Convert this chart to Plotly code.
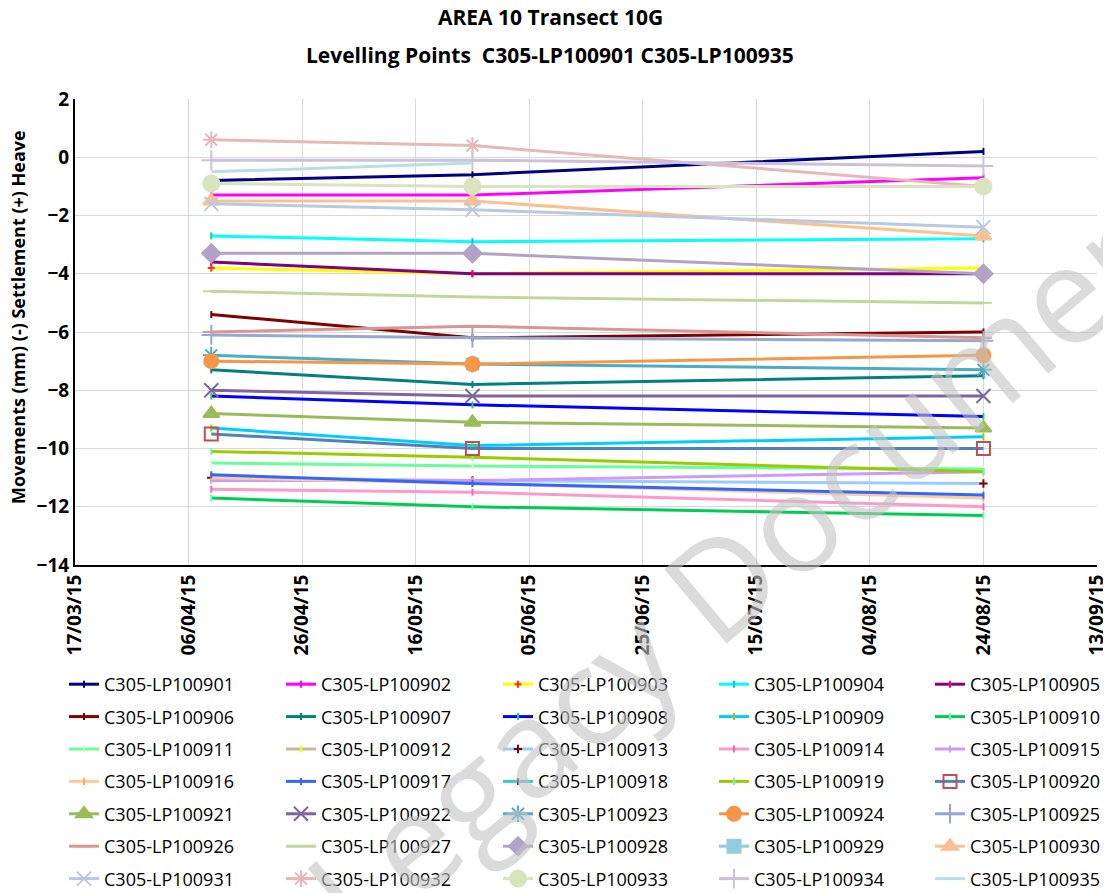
import plotly.graph_objects as go

dates = ["2015-04-10", "2015-05-26", "2015-08-24"]

lp100901 = [-0.8, -0.6, 0.2]
lp100902 = [-1.3, -1.3, -0.7]
lp100903 = [-3.8, -4.0, -3.8]
lp100904 = [-2.7, -2.9, -2.8]
lp100905 = [-3.6, -4.0, -4.0]
lp100906 = [-5.4, -6.2, -6.0]
lp100907 = [-7.3, -7.8, -7.5]
lp100908 = [-8.2, -8.5, -8.9]
lp100909 = [-9.3, -9.9, -9.6]
lp100910 = [-11.7, -12.0, -12.3]
lp100911 = [-10.5, -10.6, -10.7]
lp100912 = [None, None, None]
lp100913 = [-11.0, -11.1, -11.2]
lp100914 = [-11.4, -11.5, -12.0]
lp100915 = [-11.1, -11.1, -10.8]
lp100916 = [-11.0, -11.2, -11.7]
lp100917 = [-10.9, -11.2, -11.6]
lp100918 = [None, None, None]
lp100919 = [-10.1, -10.3, -10.8]
lp100920 = [-9.5, -10.0, -10.0]
lp100921 = [-8.8, -9.1, -9.3]
lp100922 = [-8.0, -8.2, -8.2]
lp100923 = [-6.8, -7.1, -7.3]
lp100924 = [-7.0, -7.1, -6.8]
lp100925 = [-6.1, -6.2, -6.3]
lp100926 = [-6.0, -5.8, -6.2]
lp100927 = [-4.6, -4.8, -5.0]
lp100928 = [-3.3, -3.3, -4.0]
lp100929 = [None, None, None]
lp100930 = [-1.5, -1.5, -2.7]
lp100931 = [-1.6, -1.8, -2.4]
lp100932 = [0.6, 0.4, -1.0]
lp100933 = [-0.9, -1.0, -1.0]
lp100934 = [-0.1, -0.1, -0.3]
lp100935 = [-0.5, -0.2, None]

# name, values, line colour, marker symbol, marker colour, marker size
series = [
    ("C305-LP100901", lp100901, "#000080", "line-ns-open", "#000080", 5),
    ("C305-LP100902", lp100902, "#FF00FF", "line-ns-open", "#FF00FF", 5),
    ("C305-LP100903", lp100903, "#FFFF00", "cross-thin-open", "#FF3300", 5),
    ("C305-LP100904", lp100904, "#00FFFF", "line-ns-open", "#00CCCC", 5),
    ("C305-LP100905", lp100905, "#800080", "line-ns-open", "#FF0066", 5),
    ("C305-LP100906", lp100906, "#800000", "line-ns-open", "#800000", 5),
    ("C305-LP100907", lp100907, "#008080", "line-ns-open", "#008080", 5),
    ("C305-LP100908", lp100908, "#0000FF", "line-ns-open", "#33CC66", 5),
    ("C305-LP100909", lp100909, "#00CCFF", "line-ns-open", "#99CC00", 5),
    ("C305-LP100910", lp100910, "#00CC55", "line-ns-open", "#66FF99", 5),
    ("C305-LP100911", lp100911, "#66FF99", "line-ns-open", "#CCFFCC", 5),
    ("C305-LP100912", lp100912, "#C4BD97", "line-ns-open", "#FFFF00", 5),
    ("C305-LP100913", lp100913, "#99CCFF", "cross-thin-open", "#800000", 6),
    ("C305-LP100914", lp100914, "#FF99CC", "line-ns-open", "#FF66AA", 5),
    ("C305-LP100915", lp100915, "#CC99FF", "line-ns-open", "#CC99FF", 5),
    ("C305-LP100916", lp100916, "#FFCC99", "line-ns-open", "#FFAA66", 5),
    ("C305-LP100917", lp100917, "#3366FF", "line-ns-open", "#3366FF", 5),
    ("C305-LP100918", lp100918, "#33CCCC", "line-ns-open", "#800080", 5),
    ("C305-LP100919", lp100919, "#99CC00", "line-ns-open", "#66FF99", 5),
    ("C305-LP100920", lp100920, "#4F81BD", "square-open", "#C0504D", 13),
    ("C305-LP100921", lp100921, "#9BBB59", "triangle-up", "#9BBB59", 14),
    ("C305-LP100922", lp100922, "#8064A2", "x-thin-open", "#8064A2", 14),
    ("C305-LP100923", lp100923, "#4BACC6", "asterisk-open", "#4BACC6", 14),
    ("C305-LP100924", lp100924, "#F79646", "circle", "#F79646", 14),
    ("C305-LP100925", lp100925, "#95A9D0", "cross-thin-open", "#95A9D0", 14),
    ("C305-LP100926", lp100926, "#D99694", "line-ew-open", "#D99694", 12),
    ("C305-LP100927", lp100927, "#C3D69B", "line-ew-open", "#C3D69B", 12),
    ("C305-LP100928", lp100928, "#B3A2C7", "diamond", "#B3A2C7", 14),
    ("C305-LP100929", lp100929, "#93CDDD", "square", "#93CDDD", 13),
    ("C305-LP100930", lp100930, "#FAC090", "triangle-up", "#FAC090", 14),
    ("C305-LP100931", lp100931, "#B9C9E3", "x-thin-open", "#B9C9E3", 14),
    ("C305-LP100932", lp100932, "#E6B9B8", "asterisk-open", "#E6B9B8", 14),
    ("C305-LP100933", lp100933, "#D7E4BD", "circle", "#D7E4BD", 16),
    ("C305-LP100934", lp100934, "#CCC1DA", "cross-thin-open", "#CCC1DA", 14),
    ("C305-LP100935", lp100935, "#B7DEE8", "circle", "rgba(0,0,0,0)", 1),
]

fig = go.Figure()
for i, (name, vals, col, sym, mcol, msize) in enumerate(series):
    column = i % 5
    fig.add_trace(go.Scatter(
        x=dates, y=vals, name=name, mode="lines+markers",
        legend="legend" if column == 0 else f"legend{column + 1}",
        legendgroup=name,
        line=dict(color=col, width=3),
        marker=dict(symbol=sym, color=mcol, size=msize,
                    line=dict(color=mcol, width=2)),
        connectgaps=False,
    ))

font = "Open Sans"
# page is drawn 8px in from the window corner, so the figure is 1103 x 885
L, T, PW, PH = 67, 91, 1022, 466

layout_legends = {}
for column, left in enumerate([56, 273, 490, 706, 922]):
    key = "legend" if column == 0 else f"legend{column + 1}"
    layout_legends[key] = dict(
        orientation="v", x=(left - L) / PW, xanchor="left",
        y=(T + PH - 658) / PH, yanchor="top",
        font=dict(family=font, size=18, color="#000000"),
        bgcolor="rgba(0,0,0,0)", tracegroupgap=6, traceorder="grouped",
    )

fig.update_layout(
    width=1103, height=885,
    margin=dict(l=L, r=14, t=T, b=885 - T - PH, autoexpand=False),
    paper_bgcolor="white", plot_bgcolor="white",
    font=dict(family=font, color="#000000"),
    xaxis=dict(
        type="date", range=["2015-03-17", "2015-09-13"],
        tick0="2015-03-17", dtick=20 * 86400000, tickformat="%d/%m/%y",
        tickangle=-90, showgrid=True, gridcolor="#D9D9D9",
        showline=True, linecolor="#000000", linewidth=2,
        ticks="", tickfont=dict(family=font, size=19, weight="bold"),
        zeroline=False,
    ),
    yaxis=dict(
        range=[-14, 2], dtick=2, showgrid=True, gridcolor="#D9D9D9",
        showline=True, linecolor="#000000", linewidth=2, zeroline=False,
        tickfont=dict(family=font, size=19, weight="bold"),
    ),
    **layout_legends,
)

fig.add_annotation(
    text="Movements (mm) (-) Settlement (+) Heave", xref="paper", yref="paper",
    x=(10 - L) / PW, y=(T + PH - 309) / PH, textangle=-90,
    xanchor="center", yanchor="middle", showarrow=False,
    font=dict(family=font, size=18, weight="bold", color="#000000"),
)

title_lines = ["AREA 10 Transect 10G", "Levelling Points  C305-LP100901 C305-LP100935"]
for line, py in zip(title_lines, [9, 47]):
    fig.add_annotation(
        text=line, xref="paper", yref="paper",
        x=(542 - L) / PW, y=(T + PH - py) / PH,
        xanchor="center", yanchor="middle", showarrow=False,
        font=dict(family=font, size=21, weight="bold", color="#000000"),
    )

fig.add_annotation(
    text="Legacy Document", xref="paper", yref="paper",
    x=(750 - L) / PW, y=(T + PH - 540) / PH,
    xanchor="center", yanchor="middle", showarrow=False, textangle=-40,
    font=dict(family=font, size=136, color="rgba(195,195,195,0.6)"),
)

fig.write_html("out.html")
